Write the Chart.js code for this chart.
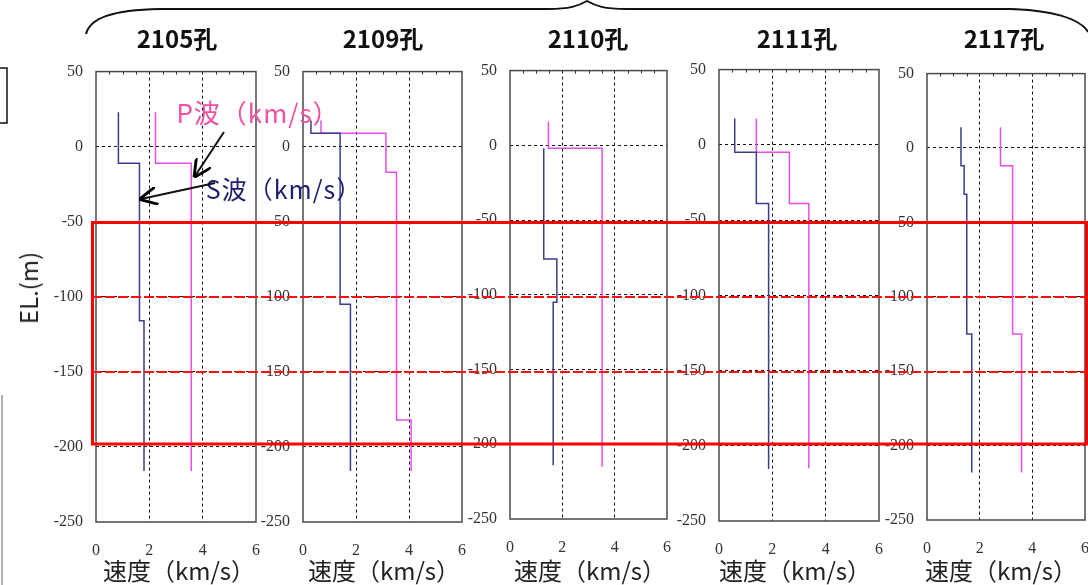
<!DOCTYPE html>
<html><head><meta charset="utf-8">
<script src="https://cdn.jsdelivr.net/npm/chart.js@4.4.1/dist/chart.umd.min.js"></script>
<style>
html,body{margin:0;padding:0;background:#fff;width:1088px;height:585px;overflow:hidden;}
body{position:relative;font-family:'Noto Sans CJK JP','Noto Sans',sans-serif;}
canvas.panel{position:absolute;}
.t{position:absolute;white-space:nowrap;transform:translate(-50%,-50%);line-height:1;}
svg{position:absolute;left:0;top:0;}
</style></head><body>
<script>
// ---------- data ----------
const holeNames = ['2105孔', '2109孔', '2110孔', '2111孔', '2117孔'];
const velTicks = [0, 2, 4, 6];
const elevTicks = [-250, -200, -150, -100, -50, 0, 50];
const xAxisTitle = '速度（km/s）';
const yAxisTitle = 'EL.(m)';
const pLabel = 'P波（km/s）';
const sLabel = 'S波（km/s）';

// layer boundaries (EL. m) and velocities (km/s) per hole
const s2105Depth = [23, -11, -116, -216];
const s2105Vel   = [0.84, 1.63, 1.80];
const p2105Depth = [23, -11, -216];
const p2105Vel   = [2.23, 3.57];

const s2109Depth = [17.5, 9, -105, -216];
const s2109Vel   = [0.30, 1.40, 1.79];
const p2109Depth = [17.5, 9, -17, -182, -216];
const p2109Vel   = [0.68, 3.13, 3.53, 4.08];

const s2110Depth = [-2, -76, -105, -214];
const s2110Vel   = [1.29, 1.79, 1.65];
const p2110Depth = [16, -2, -215];
const p2110Vel   = [1.47, 3.52];

const s2111Depth = [17.5, -5, -39, -215.5];
const s2111Vel   = [0.59, 1.40, 1.86];
const p2111Depth = [17.5, -5, -39, -215];
const p2111Vel   = [1.40, 2.64, 3.37];

const s2117Depth = [14, -12, -31, -125, -218];
const s2117Vel   = [1.29, 1.41, 1.51, 1.70];
const p2117Depth = [14, -12, -125, -218];
const p2117Vel   = [2.79, 3.25, 3.59];

const sDepths = [s2105Depth, s2109Depth, s2110Depth, s2111Depth, s2117Depth];
const sVels   = [s2105Vel, s2109Vel, s2110Vel, s2111Vel, s2117Vel];
const pDepths = [p2105Depth, p2109Depth, p2110Depth, p2111Depth, p2117Depth];
const pVels   = [p2105Vel, p2109Vel, p2110Vel, p2111Vel, p2117Vel];

// ---------- layout ----------
const boxes = [
  {l: 96,  t: 72, r: 256,  b: 522},
  {l: 303, t: 72, r: 462,  b: 522},
  {l: 510, t: 71, r: 667,  b: 519},
  {l: 719, t: 70, r: 879,  b: 521},
  {l: 927, t: 74, r: 1085, b: 520}
];
const titleX = [177, 383, 588, 797, 1004];
const xTitleX = [179, 384, 590, 795, 1001];
const YW = 60, PT = 12, PR = 6, XH = 40;

function steps(depth, vel) {
  const pts = [];
  for (let i = 0; i < vel.length; i++) {
    pts.push({x: vel[i], y: depth[i]});
    pts.push({x: vel[i], y: depth[i + 1]});
  }
  return pts;
}

const framePlugin = {
  id: 'frame',
  beforeDatasetsDraw(chart) {
    const {ctx, chartArea: a, scales} = chart;
    ctx.save();
    ctx.strokeStyle = '#4a4a4a';
    ctx.lineWidth = 1.5;
    ctx.strokeRect(a.left, a.top, a.right - a.left, a.bottom - a.top);
    ctx.lineWidth = 1;
    ctx.strokeStyle = '#333';
    for (let v = 0.5; v < 6; v += 0.5) {
      if (v % 2 === 0) continue;
      const x = Math.round(scales.x.getPixelForValue(v)) + 0.5;
      ctx.beginPath();
      ctx.moveTo(x, a.top);
      ctx.lineTo(x, a.top + 3);
      ctx.stroke();
    }
    ctx.restore();
  }
};

const tickFont = {family: "'Liberation Serif','DejaVu Serif',serif", size: 16};

function makeConfig(i) {
  return {
    type: 'scatter',
    data: {
      datasets: [
        {label: 'S', data: steps(sDepths[i], sVels[i]), showLine: true, borderColor: '#3c3c8e',
         borderWidth: 1.5, pointRadius: 0, tension: 0},
        {label: 'P', data: steps(pDepths[i], pVels[i]), showLine: true, borderColor: '#e64ce6',
         borderWidth: 1.5, pointRadius: 0, tension: 0}
      ]
    },
    options: {
      responsive: false, maintainAspectRatio: false, animation: false,
      layout: {autoPadding: false, padding: {top: PT, right: PR, left: 0, bottom: 0}},
      plugins: {legend: {display: false}, tooltip: {enabled: false}},
      scales: {
        x: {
          type: 'linear', min: 0, max: 6,
          afterBuildTicks: s => { s.ticks = velTicks.map(v => ({value: v})); },
          ticks: {font: tickFont, color: '#333', padding: 19, maxRotation: 0},
          grid: {drawTicks: false, lineWidth: 1,
                 color: c => (c.tick && (c.tick.value === 0 || c.tick.value === 6)) ? 'rgba(0,0,0,0)' : '#111'},
          border: {display: false, dash: [3, 3]},
          afterFit: s => { s.height = XH; }
        },
        y: {
          type: 'linear', min: -250, max: 50,
          afterBuildTicks: s => { s.ticks = elevTicks.map(v => ({value: v})); },
          ticks: {font: tickFont, color: '#333', padding: 13},
          grid: {drawTicks: false, lineWidth: 1,
                 color: c => (c.tick && (c.tick.value === -250 || c.tick.value === 50)) ? 'rgba(0,0,0,0)' : '#111'},
          border: {display: false, dash: [3, 3]},
          afterFit: s => { s.width = YW; }
        }
      }
    },
    plugins: [framePlugin]
  };
}

boxes.forEach((b, i) => {
  const cv = document.createElement('canvas');
  cv.className = 'panel';
  document.body.appendChild(cv);
  let w = YW + (b.r - b.l) + PR;
  let h = PT + (b.b - b.t) + XH;
  let chart = null;
  for (let k = 0; k < 4; k++) {
    cv.width = w; cv.height = h;
    cv.style.width = w + 'px'; cv.style.height = h + 'px';
    chart = new Chart(cv, makeConfig(i));
    const a = chart.chartArea;
    const insL = a.left, insT = a.top, insR = chart.width - a.right, insB = chart.height - a.bottom;
    cv.style.left = Math.round(b.l - insL) + 'px';
    cv.style.top = Math.round(b.t - insT) + 'px';
    const nw = Math.round(insL + (b.r - b.l) + insR);
    const nh = Math.round(insT + (b.b - b.t) + insB);
    if (nw === chart.width && nh === chart.height) break;
    chart.destroy();
    w = nw; h = nh;
  }
});

function addText(txt, x, y, style) {
  const d = document.createElement('div');
  d.className = 't';
  d.textContent = txt;
  d.style.left = x + 'px';
  d.style.top = y + 'px';
  Object.assign(d.style, style || {});
  document.body.appendChild(d);
  return d;
}
holeNames.forEach((n, i) => addText(n, titleX[i], 38, {fontSize: '24px', fontWeight: 'bold', color: '#111'}));
holeNames.forEach((n, i) => addText(xAxisTitle, xTitleX[i], 570, {fontSize: '24px', color: '#222'}));
addText(yAxisTitle, 28, 288, {fontSize: '24px', color: '#222', transform: 'translate(-50%,-50%) rotate(-90deg)'});
addText(pLabel, 258, 112, {fontSize: '26px', color: '#f0509e', letterSpacing: '1px'});
addText(sLabel, 284, 188, {fontSize: '25px', color: '#1d1d6e', letterSpacing: '1px'});

// overlay: brace, arrows, red box
const NS = 'http://www.w3.org/2000/svg';
const svg = document.createElementNS(NS, 'svg');
svg.setAttribute('width', 1088); svg.setAttribute('height', 585);
svg.innerHTML = `
<defs>
 <marker id="ah" viewBox="0 0 10 10" refX="9" refY="5" markerWidth="9" markerHeight="9" orient="auto-start-reverse">
  <path d="M0,0 L10,5 L0,10" fill="none" stroke="#000" stroke-width="1.6"/>
 </marker>
</defs>
<path d="M86,34 C90,18 112,10 160,9 L548,9 C570,9 578,6 587,1 C596,6 604,9 626,9 L1010,9 C1050,10 1080,18 1088,32" fill="none" stroke="#111" stroke-width="2"/>
<rect x="-2" y="68" width="9" height="55" fill="none" stroke="#111" stroke-width="1.5"/>
<line x1="2" y1="395" x2="2" y2="585" stroke="#999" stroke-width="1.5"/>
<line x1="224" y1="132" x2="195" y2="176" stroke="#111" stroke-width="2" marker-end="url(#ah)"/>
<line x1="215" y1="183" x2="141" y2="199" stroke="#111" stroke-width="2" marker-end="url(#ah)"/>
<rect x="92.5" y="222.5" width="994" height="221.5" fill="none" stroke="#ff0000" stroke-width="3"/>
<line x1="92" y1="297" x2="1088" y2="297" stroke="#ff1010" stroke-width="2" stroke-dasharray="10,3"/>
<line x1="92" y1="372" x2="1088" y2="372" stroke="#ff1010" stroke-width="2" stroke-dasharray="10,3"/>
`;
document.body.appendChild(svg);
</script>
</body></html>
